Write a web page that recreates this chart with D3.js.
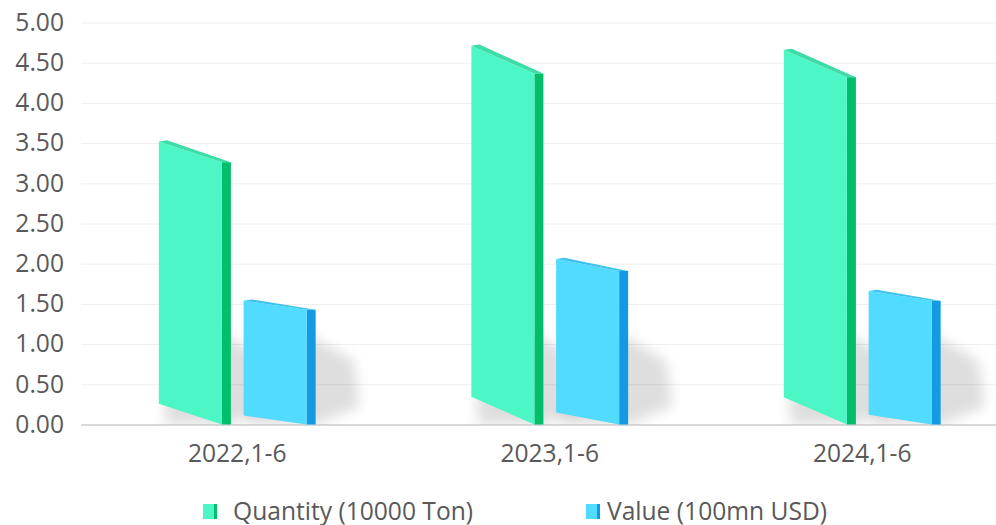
<!DOCTYPE html>
<html>
<head>
<meta charset="utf-8">
<script src="https://cdn.jsdelivr.net/npm/d3@7"></script>
<style>
  html, body { margin: 0; padding: 0; background: #fff; }
  svg text { font-family: "Open Sans", "Noto Sans", sans-serif; }
</style>
</head>
<body>
<div id="chart"></div>
<script>
var categories = ["2022,1-6", "2023,1-6", "2024,1-6"];
var seriesNames = ["Quantity (10000 Ton)", "Value (100mn USD)"];
var quantity = [3.52, 4.71, 4.66];
var value = [1.54, 2.06, 1.66];
var yTicks = [0, 0.5, 1, 1.5, 2, 2.5, 3, 3.5, 4, 4.5, 5];

const WIDTH = 996;
const HEIGHT = 525;
const LEFT = 81;
const TOP = 22.5;
const BASE = 424.5;
const SIDE_W = 9;
const SKEW = 0.073;
const FONT = '"Open Sans", "Noto Sans", sans-serif';
const FONT_SIZE = "24.6px";

var colors = [
    {front: "#4df7c5", side: "#00be69", top: "#3cdca6"},
    {front: "#50dbff", side: "#1499e3", top: "#3cc3ee"}
];

var translate = function (x, y) {
    return "translate(" + x + "," + y + ")";
};

var loadChart = function () {
    var svg = d3.select("#chart").append("svg")
        .attr("width", WIDTH)
        .attr("height", HEIGHT);

    var defs = svg.append("defs");
    defs.append("filter")
        .attr("id", "blur")
        .attr("x", "-50%").attr("y", "-50%")
        .attr("width", "200%").attr("height", "200%")
        .append("feGaussianBlur")
        .attr("stdDeviation", 6.5);
    defs.append("clipPath")
        .attr("id", "floor")
        .append("rect")
        .attr("x", 0).attr("y", 0)
        .attr("width", WIDTH).attr("height", BASE);

    var xScale = d3.scaleBand()
        .domain(categories)
        .range([LEFT, LEFT + 937.5]);

    var xSub = d3.scaleBand()
        .domain([0, 1])
        .range([-78.4, 78.4])
        .paddingInner(0.15);

    var yScale = d3.scaleLinear()
        .domain([0, 5])
        .range([BASE, TOP]);

    // grid + y labels
    var yAxis = d3.axisLeft(yScale)
        .tickValues(yTicks)
        .tickFormat(d3.format(".2f"))
        .tickSize(-(WIDTH - LEFT))
        .tickPadding(17);

    var gy = svg.append("g")
        .attr("transform", translate(LEFT, 0))
        .call(yAxis);
    gy.select(".domain").remove();
    gy.selectAll(".tick line")
        .attr("stroke", function (d) { return d === 0 ? "#cccccc" : "#eeeeee"; })
        .attr("stroke-width", function (d) { return d === 0 ? 1.5 : 1; });
    gy.selectAll(".tick text")
        .attr("fill", "#595959")
        .style("font-family", FONT)
        .style("font-size", FONT_SIZE);

    // x labels
    var xAxis = d3.axisBottom(xScale).tickSize(0).tickPadding(20);
    var gx = svg.append("g")
        .attr("transform", translate(0, BASE))
        .call(xAxis);
    gx.select(".domain").remove();
    gx.selectAll(".tick text")
        .attr("fill", "#595959")
        .style("font-family", FONT)
        .style("font-size", FONT_SIZE);

    var bars = [];
    categories.forEach(function (c, i) {
        [quantity[i], value[i]].forEach(function (v, s) {
            var x0 = xScale(c) + xScale.bandwidth() / 2 + xSub(s);
            var x1 = x0 + xSub.bandwidth() - SIDE_W;
            var yTop = yScale(v);
            var h = BASE - yTop;
            bars.push({x0: x0, x1: x1, yTop: yTop, h: h, shift: SKEW * h, s: s});
        });
    });

    // shadows
    svg.append("g")
        .attr("clip-path", "url(#floor)")
        .selectAll("path")
        .data(bars)
        .enter()
        .append("path")
        .attr("d", function (b) {
            var xr = b.x1 + SIDE_W;
            return "M" + (b.x0 + 6) + "," + BASE +
                "L" + (b.x0 + 6) + "," + (BASE - b.shift - 3) +
                "L" + (xr - 8) + "," + (BASE - 90) +
                "L" + (xr + 38) + "," + (BASE - 64) +
                "L" + (xr + 44) + "," + (BASE - 18) +
                "L" + xr + "," + BASE + "Z";
        })
        .attr("fill", "#000")
        .attr("opacity", 0.13)
        .attr("filter", "url(#blur)");

    var g = svg.append("g");

    // side faces
    g.selectAll(".side")
        .data(bars)
        .enter()
        .append("rect")
        .attr("class", "side")
        .attr("x", function (b) { return b.x1; })
        .attr("y", function (b) { return b.yTop + b.shift; })
        .attr("width", SIDE_W)
        .attr("height", function (b) { return b.h - b.shift; })
        .attr("fill", function (b) { return colors[b.s].side; });

    // front faces
    g.selectAll(".front")
        .data(bars)
        .enter()
        .append("path")
        .attr("class", "front")
        .attr("d", function (b) {
            return "M" + b.x0 + "," + b.yTop +
                "L" + b.x1 + "," + (b.yTop + b.shift) +
                "L" + b.x1 + "," + BASE +
                "L" + b.x0 + "," + (BASE - b.shift) + "Z";
        })
        .attr("fill", function (b) { return colors[b.s].front; });

    // top faces
    g.selectAll(".top")
        .data(bars)
        .enter()
        .append("path")
        .attr("class", "top")
        .attr("d", function (b) {
            return "M" + b.x0 + "," + b.yTop +
                "L" + (b.x0 + SIDE_W - 1) + "," + (b.yTop - 1.2) +
                "L" + (b.x1 + SIDE_W) + "," + (b.yTop + b.shift) +
                "L" + b.x1 + "," + (b.yTop + b.shift) + "Z";
        })
        .attr("fill", function (b) { return colors[b.s].top; });

    // legend
    var legendX = [{icon: 203, text: 233}, {icon: 586, text: 607}];
    var legend = svg.append("g")
        .selectAll("g")
        .data(seriesNames)
        .enter()
        .append("g");

    legend.append("rect")
        .attr("x", function (d, i) { return legendX[i].icon; })
        .attr("y", 504)
        .attr("width", 11)
        .attr("height", 15)
        .attr("fill", function (d, i) { return colors[i].front; });
    legend.append("rect")
        .attr("x", function (d, i) { return legendX[i].icon + 11; })
        .attr("y", 504)
        .attr("width", 3)
        .attr("height", 15)
        .attr("fill", function (d, i) { return colors[i].side; });
    legend.append("text")
        .attr("x", function (d, i) { return legendX[i].text; })
        .attr("y", 519.5)
        .attr("fill", "#595959")
        .style("font-family", FONT)
        .style("font-size", FONT_SIZE)
        .text(function (d) { return d; });
};

window.onload = loadChart;
</script>
</body>
</html>
